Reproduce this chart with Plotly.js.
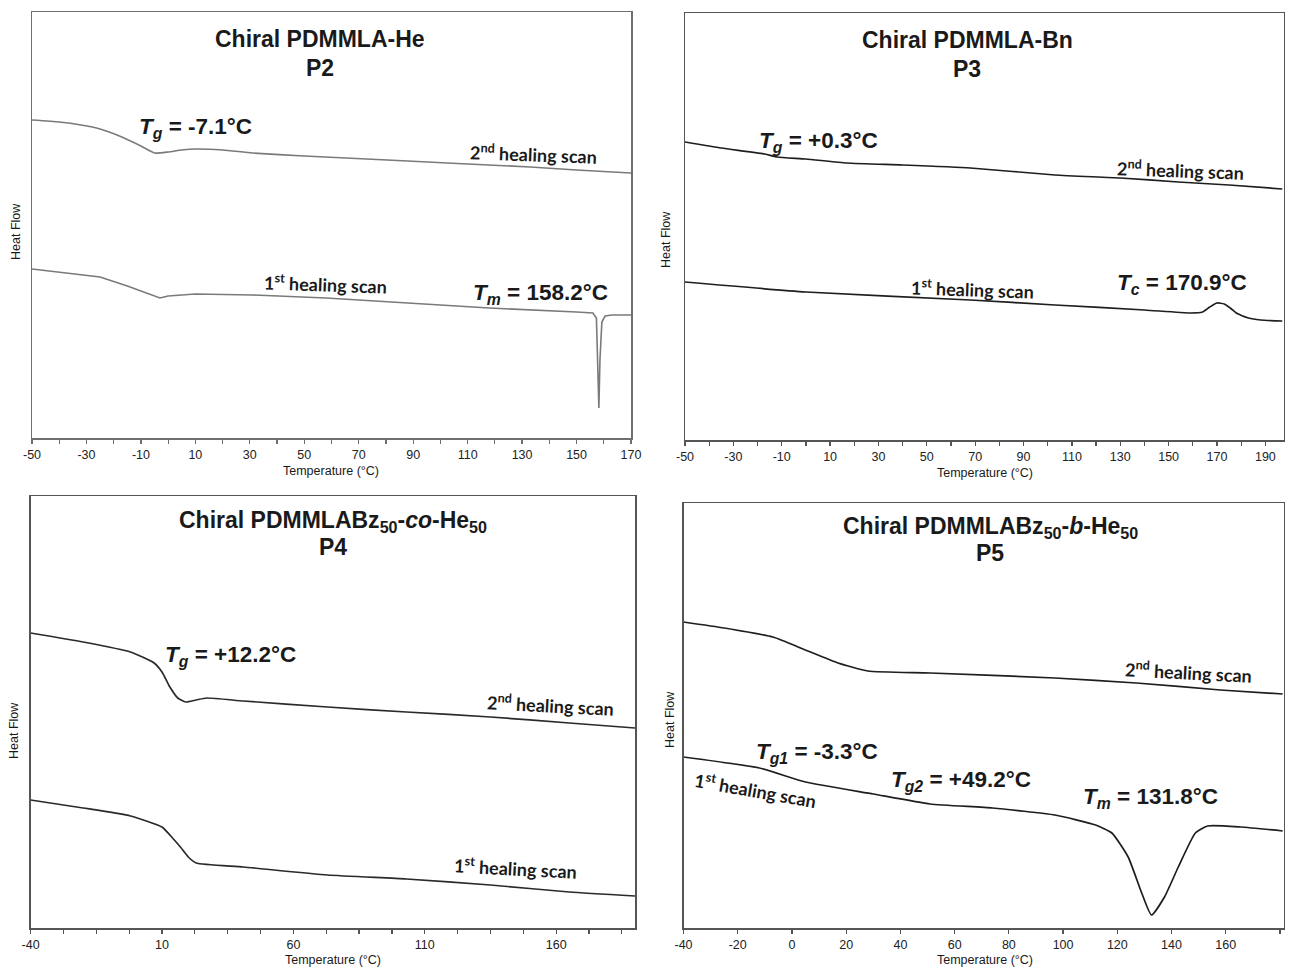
<!DOCTYPE html>
<html>
<head>
<meta charset="utf-8">
<script src="https://cdn.plot.ly/plotly-3.0.1.min.js"></script>
<style>
html,body{margin:0;padding:0;background:#fff;}
#chart{width:1289px;height:969px;}
</style>
</head>
<body>
<div id="chart"></div>
<script>
// ---------------- DATA (temperature in °C, heat flow in arbitrary units) ----------------
// P2 – Chiral PDMMLA-He
const p2_scan2_T  = [-50, -40, -32, -25, -17, -10, -5, 0, 5, 10, 20, 31, 50, 88, 110, 133, 150, 170];
const p2_scan2_HF = [318, 316, 313, 309, 301, 292, 285, 286, 288, 289, 288, 285, 282, 277, 274, 271, 268, 265];
const p2_scan1_T  = [-50, -40, -25, -15, -5, -3, 0, 10, 31, 58, 88, 118, 150, 156, 157.3, 157.9, 158.2, 158.6, 159.3, 160.5, 163, 170];
const p2_scan1_HF = [169, 166, 161, 152, 142, 140, 142, 144, 143, 140, 135, 130, 126, 125, 120, 68, 30, 78, 116, 122, 123, 123];

// P3 – Chiral PDMMLA-Bn
const p3_scan2_T  = [-50, -35, -17, -12, 0, 17, 40, 68, 103, 130, 154, 175, 197];
const p3_scan2_HF = [298, 292, 286, 283, 281, 277, 275, 272, 265, 262, 258, 255, 251];
const p3_scan1_T  = [-50, 0, 68, 103, 140, 159, 164, 167, 170, 173, 176, 178, 183, 188, 197];
const p3_scan1_HF = [158, 148, 140, 135, 130, 127, 128, 133, 137, 136, 131, 127, 122, 120, 119];

// P4 – Chiral PDMMLABz50-co-He50
const p4_scan2_T  = [-40, -20, -2, 7, 10, 13, 16, 19, 23, 27, 41, 73, 103, 135, 165, 190];
const p4_scan2_HF = [295, 286, 276, 265, 256, 241, 230, 226, 228, 230, 227, 221, 216, 211, 205, 200];
const p4_scan1_T  = [-40, -20, -2, 10, 14, 17, 20, 23, 41, 73, 103, 135, 165, 190];
const p4_scan1_HF = [128, 120, 112, 101, 90, 81, 71, 65, 61, 53, 49, 43, 36, 32];

// P5 – Chiral PDMMLABz50-b-He50
const p5_scan2_T  = [-40, -25, -7, 5, 17, 28, 51, 97, 127, 158, 181];
const p5_scan2_HF = [306, 300, 291, 278, 265, 257, 255, 250, 245, 238, 234];
const p5_scan1_T  = [-40, -12, 5, 30, 51, 74, 97, 112, 118, 124, 129, 132.6, 137.4, 142.5, 148.8, 153.3, 165.5, 181];
const p5_scan1_HF = [171, 160, 146, 134, 124, 120, 113, 103, 95, 71, 35, 13, 31, 61, 95, 102, 101, 97];

// Tick labels (hyphen-minus as in the original)
const p2_ticks = [-50, -30, -10, 10, 30, 50, 70, 90, 110, 130, 150, 170];
const p3_ticks = [-50, -30, -10, 10, 30, 50, 70, 90, 110, 130, 150, 170, 190];
const p4_ticks = [-40, 10, 60, 110, 160];
const p5_ticks = [-40, -20, 0, 20, 40, 60, 80, 100, 120, 140, 160, 180];

// Text
const panelTitles = ["Chiral PDMMLA-He", "Chiral PDMMLA-Bn",
  "Chiral PDMMLABz<sub>50</sub>-<i>co</i>-He<sub>50</sub>",
  "Chiral PDMMLABz<sub>50</sub>-<i>b</i>-He<sub>50</sub>"];
const panelCodes = ["P2", "P3", "P4", "P5"];
const scan2Label = "2<sup>nd</sup> healing scan";
const scan1Label = "1<sup>st</sup> healing scan";
const xTitle = "Temperature (°C)";
const yTitle = "Heat Flow";

// ---------------- LAYOUT ----------------
const W = 1289, H = 969;
const fx = p => p / W;
const fy = p => 1 - p / H;

// frame pixel boxes [left, right, top, bottom]
const boxes = [
  [32, 631, 12, 438],
  [685, 1283.5, 13, 440],
  [30.6, 635, 496, 928],
  [683.5, 1283.5, 503, 928]
];

const lineCol = ['#7a7a7a', '#1e1e1e', '#2a2a2a', '#1e1e1e'];
const frameCol = ['#6f6f6f', '#555', '#555', '#555'];

function tr(x, y, i, shape) {
  return {
    x: x, y: y, type: 'scatter', mode: 'lines',
    xaxis: i === 0 ? 'x' : 'x' + (i + 1),
    yaxis: i === 0 ? 'y' : 'y' + (i + 1),
    line: {color: lineCol[i], width: i === 0 ? 1.6 : 1.7, shape: shape || 'spline', smoothing: 0.5},
    hoverinfo: 'skip', showlegend: false
  };
}

const data = [
  tr(p2_scan2_T, p2_scan2_HF, 0), tr(p2_scan1_T, p2_scan1_HF, 0, 'linear'),
  tr(p3_scan2_T, p3_scan2_HF, 1), tr(p3_scan1_T, p3_scan1_HF, 1),
  tr(p4_scan2_T, p4_scan2_HF, 2), tr(p4_scan1_T, p4_scan1_HF, 2),
  tr(p5_scan2_T, p5_scan2_HF, 3), tr(p5_scan1_T, p5_scan1_HF, 3)
];

const xCfg = [
  {range: [-50, 170], ticks: p2_ticks, tick0: -50, minor: 10},
  {range: [-50, 197.5], ticks: p3_ticks, tick0: -50, minor: 10},
  {range: [-40, 190], ticks: p4_ticks, tick0: -40, minor: 12.5},
  {range: [-40, 181.3], ticks: p5_ticks, tick0: -40, minor: null}
];

const layout = {
  width: W, height: H,
  margin: {l: 0, r: 0, t: 0, b: 0},
  paper_bgcolor: '#fff', plot_bgcolor: '#fff',
  showlegend: false,
  annotations: [],
  font: {family: 'Liberation Sans, Arial, sans-serif', color: '#222'}
};

boxes.forEach((b, i) => {
  const xk = i === 0 ? 'xaxis' : 'xaxis' + (i + 1);
  const yk = i === 0 ? 'yaxis' : 'yaxis' + (i + 1);
  const c = xCfg[i];
  layout[xk] = {
    domain: [fx(b[0]), fx(b[1])],
    anchor: i === 0 ? 'y' : 'y' + (i + 1),
    range: c.range, tickmode: 'array', tickvals: c.ticks, ticktext: c.ticks.map(v => String(v)),
    ticks: 'outside', ticklen: 4, tickwidth: 1.2, tickcolor: frameCol[i],
    showline: true, linecolor: frameCol[i], linewidth: 1.5, mirror: true,
    showgrid: false, zeroline: false, fixedrange: true,
    tickfont: {family: 'Liberation Sans Narrow, Liberation Sans, Arial, sans-serif', size: 12.5, color: '#222'},
    automargin: false
  };
  if (c.minor) layout[xk].minor = {tickmode: 'linear', dtick: c.minor, tick0: c.tick0, ticks: 'outside', ticklen: 4, tickwidth: 1.2, tickcolor: frameCol[i], showgrid: false};
  layout[yk] = {
    domain: [fy(b[3]), fy(b[2])],
    anchor: i === 0 ? 'x' : 'x' + (i + 1),
    range: [0, b[3] - b[2]],
    showticklabels: false, ticks: '',
    showline: true, linecolor: frameCol[i], linewidth: 1.5, mirror: true,
    showgrid: false, zeroline: false, fixedrange: true, automargin: false
  };
});

function ann(text, x, y, size, opts) {
  return Object.assign({
    text: text, xref: 'paper', yref: 'paper', x: fx(x), y: fy(y),
    xanchor: 'center', yanchor: 'middle', showarrow: false,
    font: {family: 'Liberation Sans, Arial, sans-serif', size: size, color: '#1a1a1a'}
  }, opts || {});
}
const calib = {family: 'Lato, Open Sans, sans-serif', size: 18, color: '#1a1a1a'};

// titles
const titlePos = [[320, 39, 68], [967, 40, 69], [333, 521, 547], [990, 527, 553]];
titlePos.forEach((t, i) => {
  layout.annotations.push(ann('<b>' + panelTitles[i] + '</b>', t[0], t[1], 23));
  layout.annotations.push(ann('<b>' + panelCodes[i] + '</b>', t[0], t[2], 23));
});

// axis titles
const xtPos = [[331, 471], [985, 473], [333, 960], [985, 960]];
xtPos.forEach(p => layout.annotations.push(ann(xTitle, p[0], p[1], 12.5)));
const ytPos = [[16, 232], [666, 240], [14, 731], [670, 720]];
ytPos.forEach(p => layout.annotations.push(ann(yTitle, p[0], p[1], 12.5, {textangle: -90})));

// scan labels
const lab = (t, x, y, ang) => ann('<b>' + t + '</b>', x, y, 18, {font: calib, textangle: ang || 0});
layout.annotations.push(lab(scan2Label, 533, 154, 2));
layout.annotations.push(lab(scan1Label, 325, 284, 2));
layout.annotations.push(lab(scan2Label, 1180, 170, 2));
layout.annotations.push(lab(scan1Label, 972, 289, 2));
layout.annotations.push(lab(scan2Label, 550, 705, 3));
layout.annotations.push(lab(scan1Label, 515, 868, 3));
layout.annotations.push(lab(scan2Label, 1188, 672, 3));
layout.annotations.push(lab(scan1Label, 755, 790, 10));

// transition labels
const tl = (t, x, y) => ann('<b>' + t + '</b>', x, y, 22.5);
layout.annotations.push(tl('<i>T</i><sub><i>g</i></sub> = -7.1°C', 195, 128));
layout.annotations.push(tl('<i>T</i><sub><i>m</i></sub> = 158.2°C', 540, 294));
layout.annotations.push(tl('<i>T</i><sub><i>g</i></sub> = +0.3°C', 818, 142));
layout.annotations.push(tl('<i>T</i><sub><i>c</i></sub> = 170.9°C', 1182, 284));
layout.annotations.push(tl('<i>T</i><sub><i>g</i></sub> = +12.2°C', 230, 656));
layout.annotations.push(tl('<i>T</i><sub><i>g1</i></sub> = -3.3°C', 817, 753));
layout.annotations.push(tl('<i>T</i><sub><i>g2</i></sub> = +49.2°C', 961, 781));
layout.annotations.push(tl('<i>T</i><sub><i>m</i></sub> = 131.8°C', 1150, 798));

Plotly.newPlot('chart', data, layout, {staticPlot: true, displayModeBar: false});
</script>
</body>
</html>
